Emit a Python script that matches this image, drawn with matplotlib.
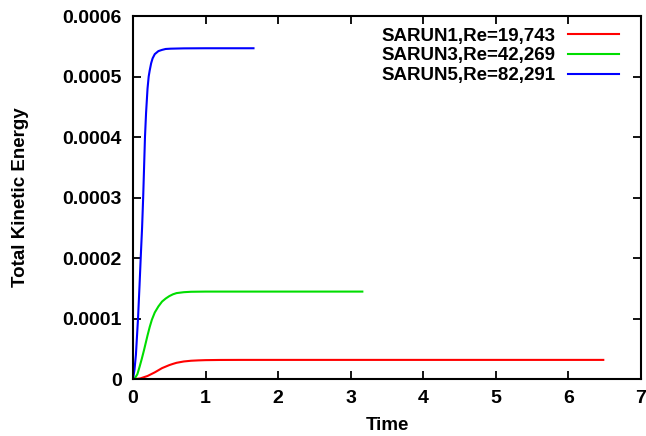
import matplotlib
matplotlib.use("Agg")
import matplotlib.pyplot as plt

plt.rcParams['font.family'] = ['Liberation Sans', 'DejaVu Sans']
plt.rcParams['font.weight'] = 'bold'

# datos
t_run1 = [0, 0.05, 0.1, 0.15, 0.2, 0.25, 0.3, 0.35, 0.4, 0.45, 0.5, 0.55, 0.6, 0.7, 0.8, 0.9,
          1.0, 1.2, 1.5, 2.0, 3.0, 4.0, 5.0, 6.0, 6.48]
ke_run1 = [0, 0.002e-4, 0.01e-4, 0.03e-4, 0.05e-4, 0.08e-4, 0.11e-4, 0.145e-4, 0.18e-4, 0.205e-4,
           0.23e-4, 0.25e-4, 0.268e-4, 0.29e-4, 0.302e-4, 0.308e-4, 0.312e-4, 0.315e-4, 0.316e-4,
           0.316e-4, 0.316e-4, 0.316e-4, 0.316e-4, 0.316e-4, 0.316e-4]

t_run3 = [0, 0.03, 0.06, 0.09, 0.12, 0.15, 0.18, 0.2, 0.23, 0.26, 0.3, 0.35, 0.4, 0.45, 0.5,
          0.55, 0.6, 0.7, 0.8, 1.0, 1.5, 2.0, 3.16]
ke_run3 = [0, 0.02e-4, 0.08e-4, 0.2e-4, 0.33e-4, 0.47e-4, 0.62e-4, 0.72e-4, 0.86e-4, 0.98e-4,
           1.1e-4, 1.2e-4, 1.28e-4, 1.33e-4, 1.37e-4, 1.40e-4, 1.42e-4, 1.435e-4, 1.442e-4,
           1.445e-4, 1.445e-4, 1.445e-4, 1.445e-4]

t_run5 = [0, 0.02, 0.04, 0.069, 0.09, 0.106, 0.125, 0.14, 0.155, 0.165, 0.18, 0.2, 0.216, 0.23,
          0.25, 0.27, 0.3, 0.35, 0.4, 0.45, 0.52, 0.7, 1.0, 1.3, 1.66]
ke_run5 = [0, 0.15e-4, 0.4e-4, 1.0e-4, 1.55e-4, 2.0e-4, 2.5e-4, 3.0e-4, 3.6e-4, 4.0e-4, 4.4e-4,
           4.8e-4, 5.0e-4, 5.1e-4, 5.22e-4, 5.3e-4, 5.37e-4, 5.42e-4, 5.44e-4, 5.455e-4, 5.46e-4,
           5.465e-4, 5.467e-4, 5.467e-4, 5.467e-4]

labels = ["SARUN1,Re=19,743", "SARUN3,Re=42,269", "SARUN5,Re=82,291"]
colors = ["#ff0000", "#00dd00", "#0000ff"]

fig = plt.figure(figsize=(6.46, 4.36), dpi=100)
ax = fig.add_axes([0.2059, 0.1307, 0.7864, 0.8326])

for t, ke, lab, c in zip([t_run1, t_run3, t_run5], [ke_run1, ke_run3, ke_run5], labels, colors):
    ax.plot(t, ke, color=c, lw=1.5, label=lab)

ax.set_xlim(0, 7)
ax.set_ylim(0, 0.0006)
ax.set_xticks(range(0, 8))
ax.set_yticks([0, 0.0001, 0.0002, 0.0003, 0.0004, 0.0005, 0.0006])
ax.set_yticklabels(["0", "0.0001", "0.0002", "0.0003", "0.0004", "0.0005", "0.0006"])

ax.tick_params(direction='in', length=6, width=1.3, top=True, right=True,
               labelsize=14, pad=8)
for s in ax.spines.values():
    s.set_linewidth(1.5)

ax.set_xlabel("Time", fontsize=13.5, fontweight='bold', labelpad=7)
ax.set_ylabel("Total Kinetic Energy", fontsize=13.5, fontweight='bold', labelpad=24)

ax.legend(loc='upper right', bbox_to_anchor=(0.99, 1.015), frameon=False, markerfirst=False,
          handlelength=2.7, handletextpad=0.7, labelspacing=0.15,
          prop={'size': 13.5, 'weight': 'bold'})

plt.savefig("out.png", dpi=100)
plt.close()
